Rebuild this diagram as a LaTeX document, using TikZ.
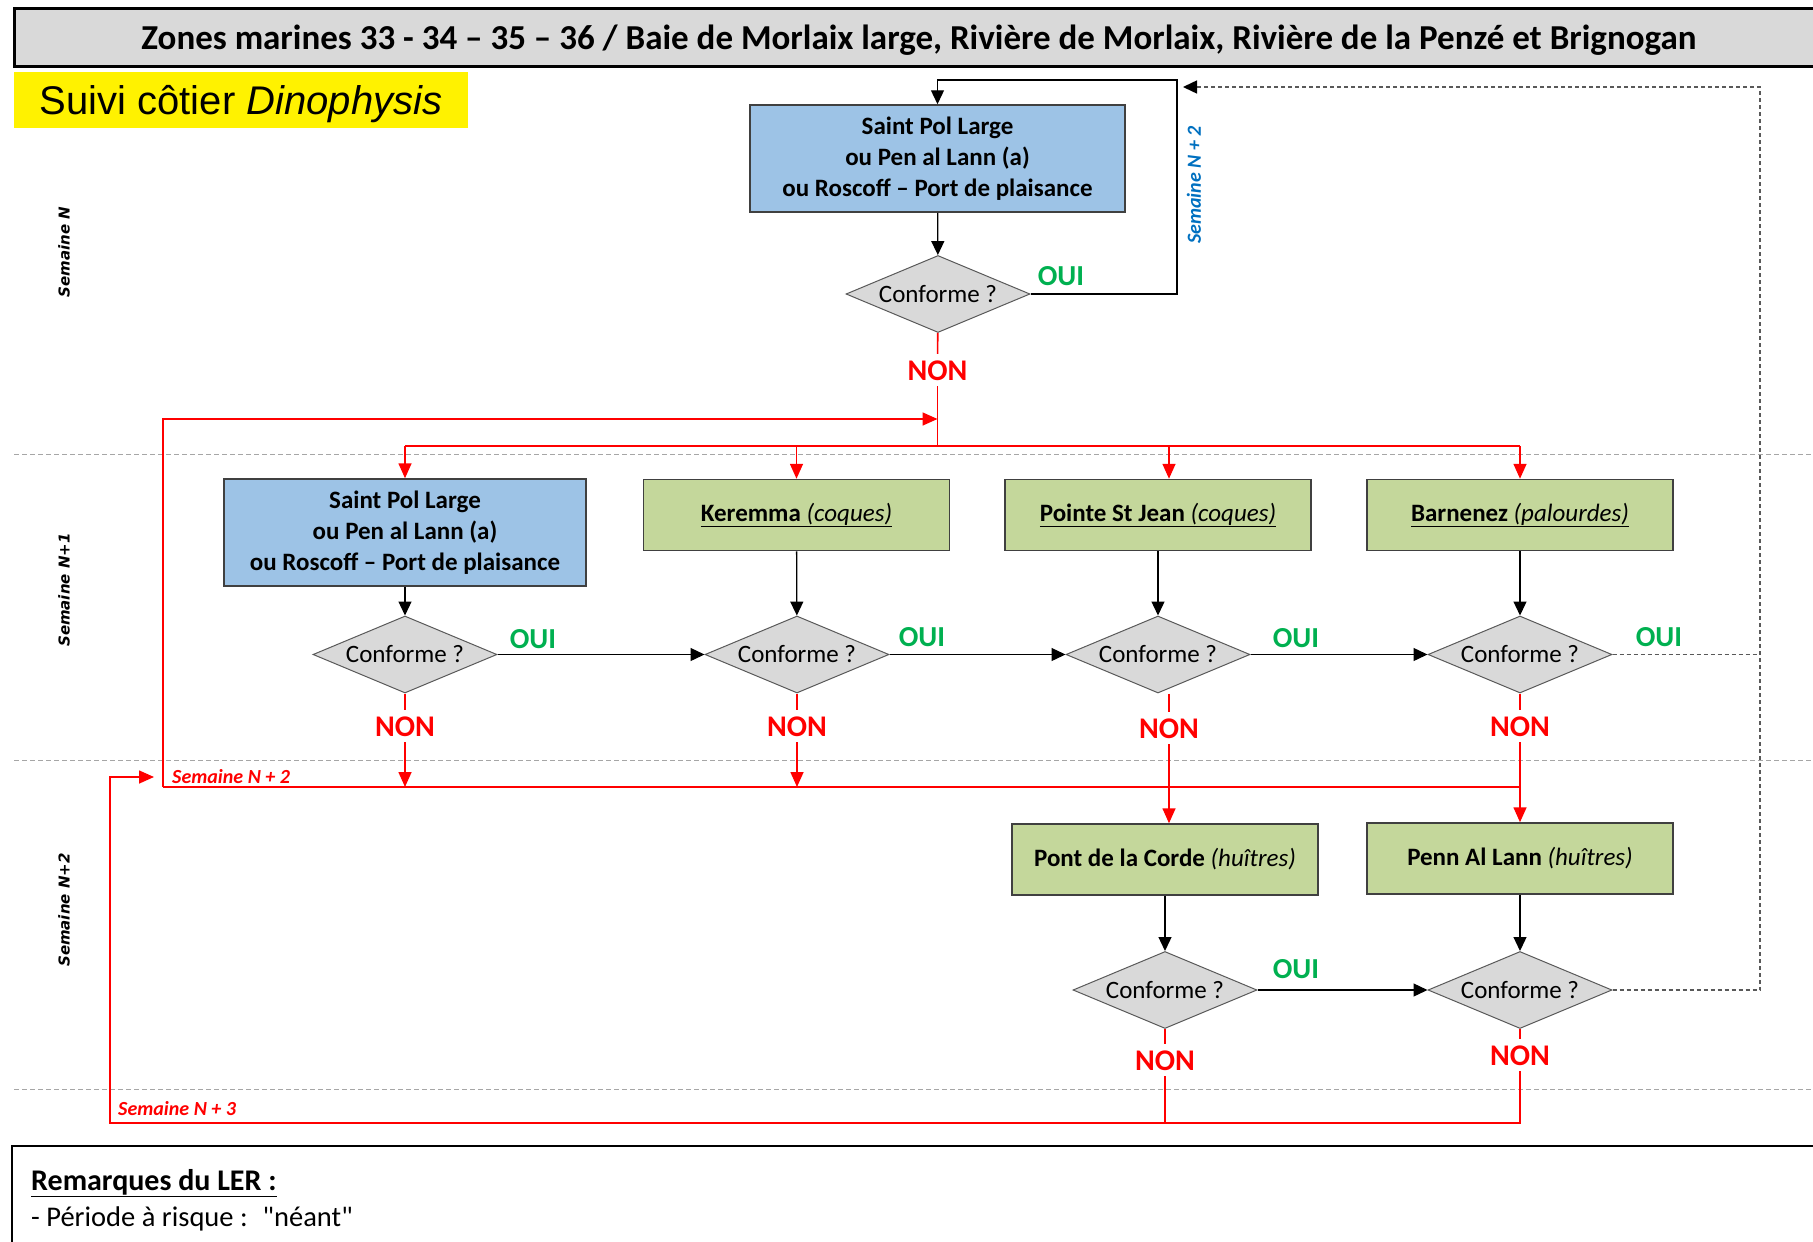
\documentclass[tikz,border=0pt]{standalone}
\usepackage{fontspec}
\setmainfont{Carlito}
\newfontfamily\plaincarlito{Carlito}
\newfontfamily\arialfont{Liberation Sans}
\newfontfamily\weekfont{DejaVu Sans}
\usepackage{tikz}
\usetikzlibrary{shapes.geometric,arrows.meta}
\definecolor{boxblue}{HTML}{9DC3E6}
\definecolor{boxgreen}{HTML}{C4D79B}
\definecolor{condgray}{HTML}{D9D9D9}
\definecolor{titlegray}{HTML}{D9D9D9}
\definecolor{edge}{HTML}{404040}
\definecolor{condedge}{HTML}{595959}
\definecolor{ouigreen}{HTML}{00B050}
\definecolor{nonred}{HTML}{FF0000}
\definecolor{weekblue}{HTML}{0070C0}
\definecolor{sepgray}{HTML}{A6A6A6}
\definecolor{dashgray}{HTML}{595959}
\tikzset{
  site/.style={draw=edge, line width=1.5pt, align=center, inner sep=0pt, font=\fontsize{25}{31}\selectfont},
  pointbox/.style={site, fill=boxblue, minimum width=375pt, minimum height=107pt, font=\bfseries\fontsize{25}{31}\selectfont},
  shellbox/.style={site, fill=boxgreen, minimum width=306pt, minimum height=71pt},
  cond/.style={diamond, draw=condedge, fill=condgray, line width=1pt, inner sep=0pt, shape aspect=2.4,
    minimum width=184pt, minimum height=77pt, font=\fontsize{25}{28}\selectfont},
  ouilab/.style={text=ouigreen, inner sep=0pt, font=\bfseries\fontsize{29}{29}\selectfont},
  nonlab/.style={text=nonred, inner sep=6pt, text height=20pt, text depth=0pt, font=\bfseries\fontsize{30}{30}\selectfont},
  flow/.style={draw=black, line width=1.3pt, -{Triangle[length=14pt,width=13pt]}},
  redline/.style={draw=nonred, line width=1.6pt},
  redflow/.style={redline, -{Triangle[length=15pt,width=13pt]}},
  backline/.style={draw=dashgray, line width=1.5pt, dash pattern=on 4pt off 3pt},
  backflow/.style={backline, -{Triangle[length=14pt,width=13pt,color=black]}},
  sepline/.style={draw=sepgray, line width=1pt, dash pattern=on 5pt off 3pt},
  week/.style={rotate=90, font=\weekfont\bfseries\itshape\fontsize{15}{15}\selectfont},
  weektag/.style={font=\bfseries\itshape\fontsize{20}{20}\selectfont},
}

\begin{document}
\begin{tikzpicture}[x=1pt,y=-1pt]
  \useasboundingbox (0,0) rectangle (1813,1242);
  % bandeau
  \draw[line width=3pt, fill=titlegray] (14,8) rectangle (1830,66);
  \node[anchor=base, font=\bfseries\fontsize{35}{35}\selectfont] (title) at (919,49)
    {Zones marines 33 - 34 – 35 – 36 / Baie de Morlaix large, Rivière de Morlaix, Rivière de la Penzé et Brignogan};
  \node[fill=yellow, minimum width=454pt, minimum height=56pt] (suivi) at (241,100) {};
  \node[font=\arialfont\fontsize{40}{40}\selectfont] (suivitxt) at (241,104) {Suivi côtier \textit{Dinophysis}};

  % semaines
  \foreach \y in {454,760,1089} \draw[sepline] (14,\y) -- (1813,\y);
  \node[week] (wN) at (64,252) {Semaine N};
  \node[week] (wN1) at (64,590) {Semaine N+1};
  \node[week] (wN2) at (64,910) {Semaine N+2};

  % semaine N
  \node[pointbox] (top) at (937.5,158.5) {Saint Pol Large\\ou Pen al Lann (a)\\ou Roscoff – Port de plaisance};
  \node[cond] (d1) at (938,294) {Conforme ?};
  \node[ouilab] (oui1) at (1061,276) {OUI};
  \node[nonlab] (non1) at (937.5,370) {NON};
  \node[weektag, text=weekblue, rotate=90] (sn2) at (1194,185) {Semaine N + 2};
  \coordinate (loop) at (1177,80);
  \draw[flow] (top) -- (d1);
  \draw[flow] (d1.east) -| (loop) -| (top.north);

  % semaine N+1
  \node[pointbox, minimum width=362pt] (spl) at (405,532.5) {Saint Pol Large\\ou Pen al Lann (a)\\ou Roscoff – Port de plaisance};
  \node[shellbox] (ker) at (796.5,515) {\underline{\textbf{Keremma} \textit{(coques)}}};
  \node[shellbox] (psj) at (1158,515) {\underline{\textbf{Pointe St Jean} \textit{(coques)}}};
  \node[shellbox] (bar) at (1520,515) {\underline{\textbf{Barnenez} \textit{(palourdes)}}};
  \node[cond] (d2) at (405,654.5) {Conforme ?};
  \node[cond] (d3) at (797,654.5) {Conforme ?};
  \node[cond] (d4) at (1158,654.5) {Conforme ?};
  \node[cond] (d5) at (1520,654.5) {Conforme ?};
  \node[ouilab] (oui2) at (533,639) {OUI};
  \node[ouilab] (oui3) at (922,637) {OUI};
  \node[ouilab] (oui4) at (1296,638) {OUI};
  \node[ouilab] (oui5) at (1659,637) {OUI};
  \node[nonlab] (non2) at (405,726) {NON};
  \node[nonlab] (non3) at (797,726) {NON};
  \node[nonlab] (non4) at (1169,728) {NON};
  \node[nonlab] (non5) at (1520,726) {NON};
  \draw[flow] (spl) -- (d2);
  \draw[flow] (ker) -- (d3);
  \draw[flow] (psj) -- (d4);
  \draw[flow] (bar) -- (d5);
  \draw[flow] (d2) -- (d3);
  \draw[flow] (d3) -- (d4);
  \draw[flow] (d4) -- (d5);

  % NON -> semaine N+1
  \coordinate (split) at (937.5,446);
  \coordinate (sjx) at (1169,0);
  \draw[redline] (d1) -- (non1);
  \draw[redline] (non1) -- (split);
  \draw[redline] (spl.north |- split) -- (bar.north |- split);
  \foreach \n in {spl,ker,bar} \draw[redflow] (\n.north |- split) -- (\n.north);
  \draw[redflow] (sjx |- split) -- (sjx |- psj.north);

  % retour semaine N+2
  \coordinate (ret) at (163,787);
  \coordinate (retup) at (163,419);
  \draw[redflow] (ret) -- (retup) -- (retup -| split);
  \draw[redline] (ret) -- (ret -| bar.north);
  \node[weektag, text=nonred, anchor=west, inner sep=0pt] (sr2) at (172,777) {Semaine N + 2};
  \draw[redline] (d2) -- (non2);
  \draw[redflow] (non2) -- (non2 |- ret);
  \draw[redline] (d3) -- (non3);
  \draw[redflow] (non3) -- (non3 |- ret);

  % semaine N+2
  \node[shellbox] (pdc) at (1165,859.5) {\textbf{Pont de la Corde} \textit{(huîtres)}};
  \node[shellbox] (pal) at (1520,858.5) {\textbf{Penn Al Lann} \textit{(huîtres)}};
  \node[cond] (d6) at (1165,990) {Conforme ?};
  \node[cond] (d7) at (1520,990) {Conforme ?};
  \node[ouilab] (oui6) at (1296,969) {OUI};
  \node[nonlab] (non6) at (1165,1060) {NON};
  \node[nonlab] (non7) at (1520,1055) {NON};
  \draw[redline] (d4.south -| sjx) -- (non4);
  \draw[redflow] (non4) -- (pdc.north -| sjx);
  \draw[redline] (d5) -- (non5);
  \draw[redflow] (non5) -- (pal);
  \draw[flow] (pdc) -- (d6);
  \draw[flow] (pal) -- (d7);
  \draw[flow] (d6) -- (d7);

  % retour semaine N+3
  \coordinate (ret3) at (110,1123);
  \coordinate (ret3up) at (110,777);
  \coordinate (ret3tip) at (154,777);
  \draw[redline] (d6) -- (non6);
  \draw[redline] (non6) -- (non6 |- ret3);
  \draw[redline] (d7) -- (non7);
  \draw[redflow] (non7) -- (non7 |- ret3) -- (ret3) -- (ret3up) -- (ret3tip);
  \node[weektag, text=nonred, anchor=west, inner sep=0pt] (sr3) at (118,1109) {Semaine N + 3};

  % OUI -> semaine N+2
  \coordinate (dtop) at (1760,87);
  \coordinate (dtip) at (1183,87);
  \draw[backflow] (d7.east) -| (dtop) -- (dtip);
  \draw[backline] (d5.east) -- (d5.east -| dtop);

  % remarques
  \draw[line width=2.5pt] (12,1146) rectangle (1830,1270);
  \node[anchor=base west, inner sep=0pt, font=\bfseries\fontsize{30}{30}\selectfont] (rem) at (31,1190)
    {\underline{Remarques du LER :}};
  \node[anchor=base west, inner sep=0pt, font=\plaincarlito\fontsize{28.5}{28.5}\selectfont] (risk) at (31,1226)
    {- Période à risque :~ "néant"};
\end{tikzpicture}
\end{document}
